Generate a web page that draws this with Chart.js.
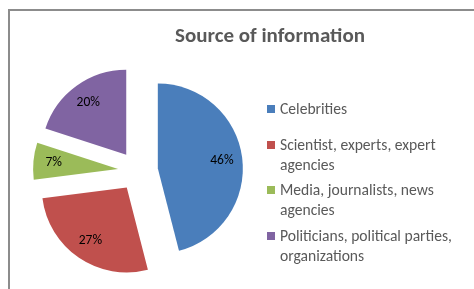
<!DOCTYPE html>
<html>
<head>
<meta charset="utf-8">
<script src="https://cdn.jsdelivr.net/npm/chart.js@4.4.0/dist/chart.umd.min.js"></script>
<style>
  html, body { margin: 0; padding: 0; background: #fff; }
  body { width: 474px; height: 289px; position: relative; overflow: hidden; font-family: Carlito, Lato, sans-serif; }
  .frame { position: absolute; left: 8px; top: 9px; width: 600px; height: 400px; border: 2px solid #8c8c8c; }
  #pie { position: absolute; left: 0; top: 0; }
  .title { position: absolute; left: 150px; width: 240px; top: 22px; text-align: center; font-weight: bold; font-size: 21px; color: #595959; }
  .legend { position: absolute; left: 267px; top: 0; color: #595959; font-size: 15.6px; }
  .item { position: absolute; left: 0; width: 220px; line-height: 20px; white-space: nowrap; }
  .item i { position: absolute; left: 0; top: 6px; width: 8px; height: 8px; }
  .item span { display: block; margin-left: 13px; }
</style>
</head>
<body>
<div class="frame"></div>
<canvas id="pie" width="474" height="289"></canvas>
<div class="title">Source of information</div>
<div class="legend" id="legend"></div>
<script>
const chartTitle = "Source of information";
const categories = [
  ["Celebrities"],
  ["Scientist, experts, expert", "agencies"],
  ["Media, journalists, news", "agencies"],
  ["Politicians, political parties,", "organizations"]
];
const shares = [46, 27, 7, 20];
const colors = ["#4a7ebb", "#c0504d", "#9bbb59", "#8064a2"];
const legendTops = [99, 135, 180, 226];

// pull every slice out from the centre along its middle angle
const explode = {
  id: "explode",
  afterDatasetsUpdate(chart) {
    chart.getDatasetMeta(0).data.forEach(arc => {
      const mid = (arc.startAngle + arc.endAngle) / 2;
      arc.x += Math.cos(mid) * 20;
      arc.y += Math.sin(mid) * 20;
    });
  }
};

const sliceLabels = {
  id: "sliceLabels",
  afterDatasetsDraw(chart) {
    const ctx = chart.ctx;
    const data = chart.data.datasets[0].data;
    ctx.save();
    ctx.font = "13.5px Carlito, Lato, sans-serif";
    ctx.fillStyle = "#000";
    ctx.textAlign = "center";
    ctx.textBaseline = "middle";
    chart.getDatasetMeta(0).data.forEach((arc, i) => {
      const mid = (arc.startAngle + arc.endAngle) / 2;
      const r = arc.outerRadius * 0.76;
      ctx.fillText(data[i] + "%", arc.x + Math.cos(mid) * r, arc.y + Math.sin(mid) * r);
    });
    ctx.restore();
  }
};

new Chart(document.getElementById("pie"), {
  type: "pie",
  data: {
    labels: categories.map(c => c.join(" ")),
    datasets: [{
      data: shares,
      backgroundColor: colors,
      borderWidth: 0
    }]
  },
  options: {
    responsive: false,
    animation: false,
    layout: { padding: { left: 53, right: 251, top: 86, bottom: 33 } },
    plugins: {
      legend: { display: false },
      title: { display: false, text: chartTitle },
      tooltip: { enabled: false }
    }
  },
  plugins: [explode, sliceLabels]
});

const legend = document.getElementById("legend");
categories.forEach((lines, i) => {
  const item = document.createElement("div");
  item.className = "item";
  item.style.top = legendTops[i] + "px";
  item.innerHTML = '<i style="background:' + colors[i] + '"></i><span>' + lines.join("<br>") + "</span>";
  legend.appendChild(item);
});
</script>
</body>
</html>
